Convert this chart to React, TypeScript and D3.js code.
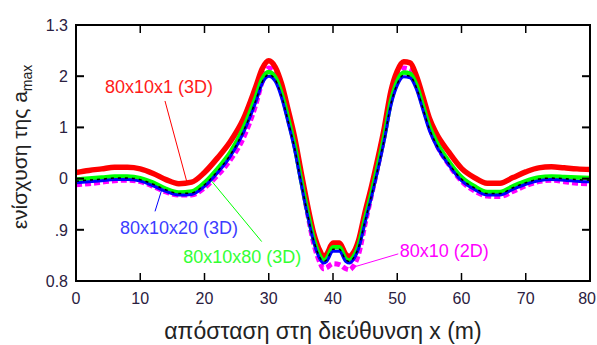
import React from "react";
import * as d3 from "d3";

const xs = [0,2,4,6,8,10,12,14,16,18,20,22,24,26,28,29,30,31,32,33,34,35,36,37,38,38.5,39,40,41,42,42.6,43,44,45,46,47,48,49,50,51,52,53,54,55,56,58,60,62,64,66,68,70,72,74,76,78,80];

const red = [1.012,1.016,1.019,1.022,1.022,1.019,1.010,0.998,0.990,0.993,1.012,1.040,1.072,1.115,1.180,1.215,1.230,1.218,1.185,1.135,1.082,1.015,0.950,0.893,0.858,0.848,0.852,0.874,0.874,0.852,0.848,0.852,0.880,0.935,0.985,1.040,1.100,1.170,1.210,1.228,1.226,1.200,1.160,1.118,1.090,1.052,1.020,1.002,0.991,0.991,1.002,1.013,1.021,1.023,1.021,1.019,1.018];

const green = [0.998,1.000,1.002,1.004,1.004,1.001,0.992,0.980,0.973,0.975,0.992,1.019,1.051,1.097,1.160,1.195,1.208,1.198,1.166,1.118,1.066,1.000,0.937,0.882,0.848,0.840,0.843,0.866,0.866,0.843,0.840,0.844,0.870,0.922,0.972,1.026,1.084,1.150,1.190,1.207,1.205,1.182,1.142,1.102,1.074,1.034,1.003,0.985,0.974,0.974,0.985,0.995,1.002,1.004,1.003,1.002,1.001];

const blue = [0.992,0.994,0.996,0.998,0.998,0.995,0.986,0.975,0.968,0.969,0.985,1.011,1.043,1.088,1.150,1.186,1.200,1.190,1.158,1.110,1.058,0.993,0.930,0.876,0.842,0.835,0.838,0.858,0.858,0.838,0.835,0.839,0.864,0.915,0.965,1.018,1.076,1.142,1.182,1.199,1.197,1.174,1.134,1.094,1.066,1.027,0.996,0.979,0.968,0.968,0.979,0.989,0.996,0.998,0.997,0.995,0.994];

const black = [0.995,0.997,0.999,1.001,1.001,0.998,0.989,0.978,0.971,0.972,0.988,1.014,1.046,1.091,1.153,1.189,1.203,1.193,1.161,1.113,1.061,0.996,0.933,0.879,0.845,0.838,0.841,0.862,0.862,0.841,0.838,0.842,0.867,0.918,0.968,1.021,1.079,1.145,1.185,1.202,1.200,1.177,1.137,1.097,1.069,1.030,0.999,0.982,0.971,0.971,0.982,0.992,0.999,1.001,1.000,0.998,0.997];

const magenta = [0.988,0.990,0.993,0.996,0.997,0.994,0.985,0.974,0.968,0.968,0.982,1.006,1.036,1.078,1.145,1.190,1.216,1.206,1.172,1.124,1.070,1.004,0.935,0.873,0.835,0.824,0.826,0.834,0.832,0.824,0.822,0.826,0.853,0.912,0.968,1.025,1.086,1.155,1.198,1.216,1.213,1.188,1.146,1.102,1.070,1.028,0.995,0.976,0.966,0.965,0.975,0.986,0.994,0.997,0.994,0.991,0.990];

const xTicks = [0,10,20,30,40,50,60,70,80];
const yTicks = [0.8,0.9,1.0,1.1,1.2,1.3];
const yTickLabels = ["0.8",".9","0","1","2","1.3"];

// annotation labels, anchor points in data units
const annLabels = ["80x10x1 (3D)","80x10x20 (3D)","80x10x80 (3D)","80x10 (2D)"];
const annText = [[4.5,1.1667],[6.85,0.892],[16.7,0.835],[50.4,0.847]];
const annLine = [[13.85,1.1516,17.23,0.9947],[12.3,0.936,13.34,0.978],[28.9,0.877,21.12,0.995],[50.16,0.853,43.16,0.827]];
const annColors = ["#ff1a1a","#3c3cff","#33ff33","#ff00ff"];
const annLineColors = ["#ff0000","#0000ff","#00ff00","#ff00ff"];

const W = 597, H = 345;
const left = 76, right = 590, top = 25, bottom = 281;

export default function App() {
  const x = d3.scaleLinear().domain([0, 80]).range([left, right]);
  const y = d3.scaleLinear().domain([0.8, 1.3]).range([bottom, top]);
  const line = d3.line<number>().x((_, i) => x(xs[i])).y(d => y(d)).curve(d3.curveMonotoneX);
  const font = "'Liberation Sans', Arial, sans-serif";
  const tickLen = 8;
  return (
    <svg width={W} height={H} style={{ position: "absolute", left: 0, top: 0, background: "#fff" }} fontFamily={font}>
      <rect x={0} y={0} width={W} height={H} fill="#fff" />
      <path d={line(magenta) || ""} fill="none" stroke="#ff00ff" strokeWidth={5} strokeDasharray="6,3" />
      <path d={line(red) || ""} fill="none" stroke="#ff0000" strokeWidth={5.5} />
      <path d={line(green) || ""} fill="none" stroke="#00ff00" strokeWidth={4.5} />
      <path d={line(blue) || ""} fill="none" stroke="#0000ff" strokeWidth={3} />
      <path d={line(black) || ""} fill="none" stroke="#000" strokeWidth={1.5} strokeDasharray="3,4" />

      {annLabels.map((t, i) => (
        <g key={t}>
          <line x1={x(annLine[i][0])} y1={y(annLine[i][1])} x2={x(annLine[i][2])} y2={y(annLine[i][3])} stroke={annLineColors[i]} strokeWidth={1} />
          <text x={x(annText[i][0])} y={y(annText[i][1])} fontSize={18} fill={annColors[i]}>{t}</text>
        </g>
      ))}

      <rect x={left} y={top} width={right - left} height={bottom - top} fill="none" stroke="#000" strokeWidth={2} />
      {xTicks.map((t, i) => (
        <g key={"x" + t}>
          <line x1={x(t)} x2={x(t)} y1={bottom} y2={bottom - tickLen} stroke="#000" strokeWidth={1.5} />
          <line x1={x(t)} x2={x(t)} y1={top} y2={top + tickLen} stroke="#000" strokeWidth={1.5} />
          <text x={i === xTicks.length - 1 ? W - 1 : x(t)} y={304} textAnchor={i === xTicks.length - 1 ? "end" : "middle"} fontSize={16} fill="#2a2040">{t}</text>
        </g>
      ))}
      {yTicks.map((t, i) => (
        <g key={"y" + t}>
          <line x1={left} x2={left + tickLen} y1={y(t)} y2={y(t)} stroke="#000" strokeWidth={2} />
          <line x1={right} x2={right - tickLen} y1={y(t)} y2={y(t)} stroke="#000" strokeWidth={2} />
          <text x={68} y={y(t)} dy="0.36em" textAnchor="end" fontSize={16} fill="#2a2040">{yTickLabels[i]}</text>
        </g>
      ))}
      <text x={323} y={339} textAnchor="middle" fontSize={23} fill="#222">απόσταση στη διεύθυνση x (m)</text>
      <text transform="translate(27,147) rotate(-90)" textAnchor="middle" fontSize={21} fill="#222">
        ενίσχυση της a<tspan fontSize={14} dy={5}>max</tspan>
      </text>
    </svg>
  );
}
